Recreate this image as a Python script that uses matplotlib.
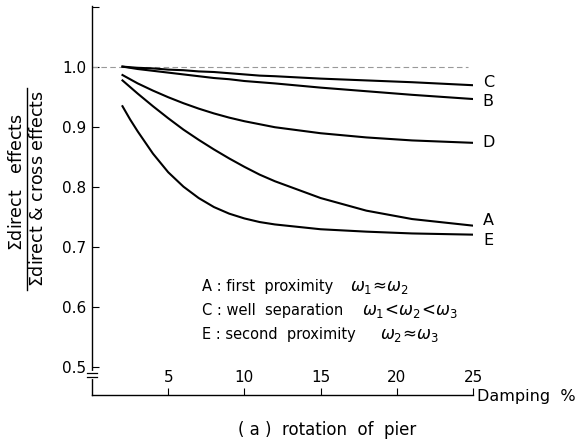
import matplotlib
matplotlib.use('Agg')
import matplotlib.pyplot as plt
from matplotlib.lines import Line2D
from matplotlib.transforms import blended_transform_factory

# damping (%) at which the curves were read
damping = [2, 2.5, 3, 4, 5, 6, 7, 8, 9, 10, 11, 12, 15, 18, 21, 25]

# ratio of direct effects to direct + cross effects
curve_A = [0.977, 0.966, 0.955, 0.934, 0.914, 0.895, 0.878, 0.862, 0.847, 0.833, 0.820, 0.809, 0.781, 0.760, 0.746, 0.735]
curve_B = [1.000, 0.998, 0.996, 0.993, 0.990, 0.987, 0.984, 0.981, 0.979, 0.976, 0.974, 0.972, 0.965, 0.959, 0.953, 0.946]
curve_C = [1.000, 0.999, 0.998, 0.997, 0.995, 0.994, 0.992, 0.991, 0.989, 0.987, 0.985, 0.984, 0.980, 0.977, 0.974, 0.969]
curve_D = [0.986, 0.979, 0.972, 0.960, 0.949, 0.939, 0.930, 0.922, 0.915, 0.909, 0.904, 0.899, 0.889, 0.882, 0.877, 0.873]
curve_E = [0.934, 0.912, 0.892, 0.855, 0.824, 0.800, 0.781, 0.766, 0.755, 0.747, 0.741, 0.737, 0.729, 0.725, 0.722, 0.720]

curves = {'C': curve_C, 'B': curve_B, 'D': curve_D, 'A': curve_A, 'E': curve_E}
# where the letter sits next to the end of each curve
label_y = {'C': 0.974, 'B': 0.942, 'D': 0.873, 'A': 0.743, 'E': 0.710}

x_ticks = [5, 10, 15, 20, 25]
y_ticks = [0.5, 0.6, 0.7, 0.8, 0.9, 1.0, 1.1]
y_tick_labels = ['0.5', '0.6', '0.7', '0.8', '0.9', '1.0', '']

notes = [
    ('A : first  proximity', r'$\omega_1\!\approx\!\omega_2$', 0.633, 16.9),
    ('C : well  separation', r'$\omega_1\!<\!\omega_2\!<\!\omega_3$', 0.593, 17.7),
    ('E : second  proximity', r'$\omega_2\!\approx\!\omega_3$', 0.553, 18.9),
]

plt.rcParams['font.family'] = ['DejaVu Sans']
plt.rcParams['mathtext.fontset'] = 'dejavusans'

fig = plt.figure(figsize=(5.81, 4.43), dpi=100)
ax = fig.add_axes([92 / 581, 48 / 443, 381 / 581, 389 / 443])
ax.set_xlim(0, 25)
ax.set_ylim(0.4528, 1.101)

ax.spines['top'].set_visible(False)
ax.spines['right'].set_visible(False)
ax.spines['left'].set_linewidth(1.0)
ax.spines['bottom'].set_linewidth(1.0)

# reference line at 1.0
ax.hlines(1.0, 0, 24.7, colors='#999999', linestyles=(0, (5, 3)), linewidth=0.8)

for name, vals in curves.items():
    ax.plot(damping, vals, color='black', linewidth=1.5)
    ax.text(26.0, label_y[name], name, fontsize=11.5, ha='center', va='center',
            clip_on=False)

ax.set_xticks(x_ticks)
ax.set_xticklabels([str(t) for t in x_ticks])
ax.set_yticks(y_ticks)
ax.set_yticklabels(y_tick_labels)
ax.tick_params(axis='x', direction='in', length=5, width=0.8, pad=-18, labelsize=11)
ax.tick_params(axis='y', direction='in', length=5, width=0.8, pad=4, labelsize=11)

for txt, om, yy, xo in notes:
    ax.text(7.2, yy, txt, fontsize=10.5, ha='left', va='center')
    ax.text(xo, yy, om, fontsize=12, ha='left', va='center')

# axis break on the left spine
tr = blended_transform_factory(ax.transAxes, ax.transData)
ax.plot([0, 0], [0.4835, 0.4895], color='white', linewidth=3, transform=tr,
        clip_on=False, zorder=5)
for yb in [0.4835, 0.4895]:
    ax.plot([-0.012, 0.012], [yb, yb], color='black', linewidth=0.9,
            transform=tr, clip_on=False, zorder=6)

fig.text(477 / 581, 1 - 397 / 443, 'Damping  %', fontsize=11.5, ha='left', va='center')
fig.text(327 / 581, 1 - 430 / 443, '( a )  rotation  of  pier', fontsize=12,
         ha='center', va='center')

# y label drawn as a fraction: numerator, bar, denominator
fig.text(17 / 581, 1 - 182 / 443, r'$\Sigma$direct   effects', fontsize=12.5,
         rotation=90, ha='center', va='center')
fig.add_artist(Line2D([27 / 581, 27 / 581], [1 - 290 / 443, 1 - 88 / 443],
                      color='black', linewidth=1.0))
fig.text(38 / 581, 1 - 189 / 443, r'$\Sigma$direct & cross effects', fontsize=12.5,
         rotation=90, ha='center', va='center')

fig.savefig('out.png', dpi=100)
